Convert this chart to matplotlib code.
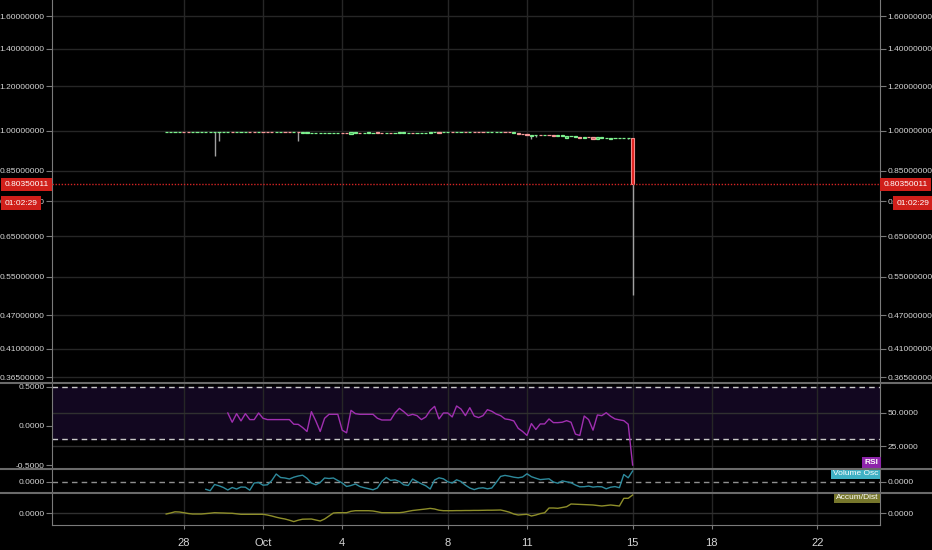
import matplotlib
matplotlib.use("Agg")
import matplotlib.pyplot as plt
import matplotlib.dates as mdates
import matplotlib.transforms as mtrans
from matplotlib import font_manager
from matplotlib.lines import Line2D
from matplotlib.ticker import FixedLocator, FixedFormatter, NullLocator
import numpy as np

# ---- datos (velas de 4h) ----
inicio = np.datetime64("2018-09-27T08:00")

aperturas = [
    .9955, .9955, .9968, .9960, .9968, .9966, .9960, .9955, .9962, .9956,
    .9962, .9958, .9956, .9950, .9948, .9960, .9946, .9952, .9944, .9956,
    .9960, .9950, .9958, .9960, .9960, .9948, .9946, .9954, .9952, .9940,
    .9948, .9932, .9925, .9922, .9928, .9926, .9926, .9925, .9924, .9926,
    .9926, .9924, .9880, .9930, .9936, .9928, .9932, .9928, .9938, .9932,
    .9926, .9934, .9928, .9930, .9930, .9926, .9936, .9924, .9924, .9926,
    .9930, .9940, .9958, .9938, .9940, .9948, .9945, .9955, .9962, .9952,
    .9960, .9962, .9960, .9944, .9950, .9950, .9946, .9950, .9946, .9930,
    .9900, .9880, .9862, .9815, .9820, .9828, .9818, .9828, .9826, .9812,
    .9814, .9700, .9780, .9770, .9765, .9700, .9760, .9750, .9690, .9700,
    .9728, .9680, .9722, .9716, .9712, .9706, .9715]

cierres = [
    .9962, .9970, .9970, .9972, .9965, .9960, .9966, .9968, .9966, .9970,
    .9965, .9965, .9963, .9964, .9962, .9954, .9960, .9958, .9958, .9950,
    .9945, .9953, .9950, .9946, .9946, .9954, .9952, .9946, .9944, .9948,
    .9940, .9938, .9938, .9935, .9932, .9932, .9932, .9932, .9931, .9932,
    .9898, .9898, .9946, .9936, .9928, .9936, .9934, .9936, .9922, .9924,
    .9934, .9926, .9934, .9934, .9932, .9934, .9920, .9930, .9930, .9932,
    .9955, .9962, .9928, .9945, .9946, .9942, .9965, .9962, .9955, .9960,
    .9952, .9945, .9944, .9960, .9956, .9955, .9952, .9942, .9938, .9936,
    .9870, .9860, .9820, .9825, .9826, .9820, .9826, .9818, .9816, .9820,
    .9820, .9790, .9786, .9778, .9720, .9745, .9740, .9695, .9740, .9745,
    .9735, .9735, .9728, .9722, .9714, .9714, .8035]

# mechas largas (el resto va de apertura a cierre)
mecha_idx = [11, 12, 30, 83, 84, 105, 106]
mecha_min = [0.902, 0.9596, 0.9596, 0.9660, 0.9740, 0.9690, 0.5106]
mecha_max = [0.9965, 0.9963, 0.9948, 0.9825, 0.9845, 0.9714, 0.9725]

rsi_desde = 14
rsi = [50, 43, 49.5, 44, 49.5, 45, 45, 50, 46, 45,
       45, 45, 45, 45, 45, 41.5, 41.4, 39, 36, 51,
       44, 36, 46, 49, 49, 49, 37, 35, 52, 49.5,
       49, 49, 49, 49, 46, 44.7, 44.7, 44.7, 50, 53.5,
       51, 48, 49, 48, 45, 47, 52, 55, 45.5, 50,
       50, 47, 55.3, 53, 48, 54, 47.7, 46.5, 48, 52.5,
       51.3, 49.2, 48, 45.5, 45, 44, 38.4, 36, 33, 42,
       37.5, 41.7, 41.7, 45.5, 42.7, 42.7, 43, 44.2, 43, 34,
       33, 47.7, 45, 37, 48.5, 48, 50.2, 47.5, 45.5, 44.8,
       44.2, 41.5, 10.6]

vol_desde = 9
vol_osc = [-7.3, -8.7, -2.5, -3.8, -5.5, -8, -5.5, -7, -5, -5.2,
           -8.2, -1, -0.5, -3.2, -2.8, 1.5, 8, 4.5, 4, 3,
           4.8, 6, 6.8, 3.7, -1, -2.8, -0.5, 4, 3.5, 4,
           1.5, -1, -4.5, -3.5, -2, -4.5, -5.7, -6.7, -7.8, -6,
           0.5, 4.5, 1.6, 2.2, 0.5, -2.8, -3.5, 3, 0.5, -1.8,
           -3.8, -7, 2, 4.2, 3.2, 0.2, -1, 2.2, 0.5, -3.2,
           -6, -7.6, -6.2, -5.8, -6.8, -6, -0.5, 5.6, 6.6, 5.8,
           4.8, 4.2, 5, 8.2, 5.3, 3.8, 2.4, 2.8, 3.2, 0,
           -1.2, 1.1, 0.2, -0.7, -3, -4.8, -4.7, -4.1, -5.1, -4.6,
           -4.8, -6.8, -5.2, -4.6, -5.7, 7.5, 4.2, 11]

acum_dist = [-1, 0, 1.2, 1, 0.3, -0.5, -1, -1, -1, -0.6,
             -0.2, 0.3, 0.1, 0, -0.2, -0.3, -0.8, -1.3, -1.3, -1.3,
             -1.3, -1.3, -1.3, -2, -3, -4.2, -5.2, -6, -7.2, -8.6,
             -7.2, -6.2, -6.1, -6, -7, -8, -6, -3, 0, 0.3,
             0.3, 0.3, 1.7, 2.3, 2.3, 2.3, 2.3, 2, 1.2, 0.3,
             0.3, 0.3, 0.3, 0.3, 0.8, 1.7, 2.5, 3, 3.5, 4,
             4.6, 4, 2.8, 2.3, 2.3, 2.3, 2.4, 2.4, 2.5, 2.5,
             2.6, 2.6, 2.7, 2.8, 2.8, 2.9, 3, 2, 0.8, -1,
             -2, -1.6, -1.3, -3, -2, -0.6, 0.2, 5, 5, 4.7,
             5.5, 6.3, 9, 8.8, 8.6, 8.4, 8.2, 8, 7.5, 7,
             7.5, 8, 7.5, 7, 14.7, 14.7, 18]

precio_ticks = [1.6, 1.4, 1.2, 1.0, 0.85, 0.75, 0.65, 0.55, 0.47, 0.41, 0.365]
fecha_ticks = ["2018-09-28", "2018-10-01", "2018-10-04", "2018-10-08",
               "2018-10-11", "2018-10-15", "2018-10-18", "2018-10-22"]
fecha_labels = ["28", "Oct", "4", "8", "11", "15", "18", "22"]
precio_actual = "0.80350011"
cuenta_atras = "01:02:29"

# ---- estilo ----
nombres = {f.name for f in font_manager.fontManager.ttflist}
if "Liberation Sans Narrow" in nombres:
    plt.rcParams["font.family"] = ["Liberation Sans Narrow", "DejaVu Sans"]
    fs = 7
else:
    plt.rcParams["font.family"] = ["Liberation Sans", "DejaVu Sans"]
    fs = 6
TXT = "#d6d6d6"
GRID = "#262626"
SPINE = "#7a7a7a"

fig = plt.figure(figsize=(9.32, 5.5), dpi=100, facecolor="black")
L, W = 52 / 932, 828 / 932
ax_p = fig.add_axes([L, 167 / 550, W, 383 / 550])
ax_r = fig.add_axes([L, 81 / 550, W, 86 / 550], sharex=ax_p)
ax_v = fig.add_axes([L, 57 / 550, W, 24 / 550], sharex=ax_p)
ax_a = fig.add_axes([L, 25 / 550, W, 32 / 550], sharex=ax_p)

n = len(cierres)
t = mdates.date2num(inicio + np.arange(n) * np.timedelta64(4, "h"))
xt = mdates.date2num(np.array(fecha_ticks, dtype="datetime64[h]"))

for ax in (ax_p, ax_r, ax_v, ax_a):
    ax.set_facecolor("black")
    for s in ("top", "bottom"):
        ax.spines[s].set_visible(False)
    for s in ("left", "right"):
        ax.spines[s].set_color(SPINE)
    ax.yaxis.set_ticks_position("both")
    ax.tick_params(axis="y", colors=SPINE, labelcolor=TXT, labelsize=fs,
                   length=4, pad=1.5, labelleft=True, labelright=True)
    ax.tick_params(axis="x", length=0, labelbottom=False)
    ax.xaxis.set_major_locator(FixedLocator(xt))
    ax.grid(True, axis="x", color=GRID, lw=1)

ax_p.set_xlim(mdates.date2num(np.datetime64("2018-09-23T00:12")),
              mdates.date2num(np.datetime64("2018-10-24T08:53")))

# ---- velas ----
o = np.array(aperturas)
c = np.array(cierres)
base = np.minimum(o, c)
lo = base.copy()
hi = np.maximum(o, c)
lo[mecha_idx] = mecha_min
hi[mecha_idx] = mecha_max
sube = c >= o
ax_p.vlines(t, lo, hi, color="#a0a0a0", lw=1, zorder=2)
ancho = 4 / 24 * 0.7
cuerpo = np.maximum(np.abs(c - o), 0.0008)
ax_p.bar(t[sube], cuerpo[sube], bottom=base[sube], width=ancho,
         color="#36a04e", edgecolor="#7df08e", lw=0.9, zorder=3)
rojo = ~sube
rojo[-1] = False
ax_p.bar(t[rojo], cuerpo[rojo], bottom=base[rojo], width=ancho,
         color="#c95d5d", edgecolor="#f59a9a", lw=0.9, zorder=3)
ax_p.bar(t[-1:], cuerpo[-1:], bottom=base[-1:], width=ancho,
         color="#e0201d", edgecolor="#f08a8a", lw=0.8, zorder=3)

ax_p.set_yscale("log")
ax_p.set_ylim(0.3562, 1.710)
ax_p.yaxis.set_major_locator(FixedLocator(precio_ticks))
ax_p.yaxis.set_major_formatter(FixedFormatter(["%.8f" % v for v in precio_ticks]))
ax_p.yaxis.set_minor_locator(NullLocator())
ax_p.grid(True, axis="y", color=GRID, lw=1)
ax_p.axhline(c[-1], color="#d42424", lw=1, ls=(0, (1, 1.2)), zorder=4)

tr = mtrans.blended_transform_factory(ax_p.transAxes, ax_p.transData)
caja = dict(boxstyle="square,pad=0.4", fc="#d01f1a", ec="none")
ax_p.text(-0.004, c[-1], precio_actual, transform=tr, ha="right", va="center",
          color="white", fontsize=fs, bbox=caja, zorder=10, clip_on=False)
ax_p.text(1.004, c[-1], precio_actual, transform=tr, ha="left", va="center",
          color="white", fontsize=fs, bbox=caja, zorder=10, clip_on=False)
ax_p.annotate(cuenta_atras, xy=(-0.057, c[-1]), xycoords=tr, xytext=(0, -13.5),
              textcoords="offset points", ha="left", va="center", color="white",
              fontsize=fs, bbox=caja, zorder=10, annotation_clip=False)
ax_p.annotate(cuenta_atras, xy=(1.020, c[-1]), xycoords=tr, xytext=(0, -13.5),
              textcoords="offset points", ha="left", va="center", color="white",
              fontsize=fs, bbox=caja, zorder=10, annotation_clip=False)

# ---- RSI ----
ax_r.set_ylim(7.6, 72.7)
ax_r.axhspan(30, 70, color="#120720", zorder=0)
ax_r.axhline(70, color="#c8c8c8", lw=1, ls=(0, (4, 3)))
ax_r.axhline(30, color="#c8c8c8", lw=1, ls=(0, (4, 3)))
ax_r.plot(t[rsi_desde:rsi_desde + len(rsi)], rsi, color="#a02fb0", lw=1)
ax_rl = ax_r.twinx()
ax_rl.set_ylim(-0.551, 0.551)
ax_rl.yaxis.set_ticks_position("left")
ax_rl.yaxis.set_major_locator(FixedLocator([0.5, 0.0, -0.5]))
ax_rl.yaxis.set_major_formatter(FixedFormatter(["0.5000", "0.0000", "-0.5000"]))
ax_rl.tick_params(axis="y", colors=SPINE, labelcolor=TXT, labelsize=fs, length=4,
                  pad=1.5, labelleft=True, labelright=False)
for s in ax_rl.spines.values():
    s.set_visible(False)
# twinx mueve los ticks del eje original a la izquierda: los devolvemos
ax_r.yaxis.set_ticks_position("right")
ax_r.yaxis.set_major_locator(FixedLocator([25, 50]))
ax_r.yaxis.set_major_formatter(FixedFormatter(["25.0000", "50.0000"]))
ax_r.tick_params(axis="y", colors=SPINE, labelcolor=TXT, labelsize=fs, length=4,
                 pad=1.5, labelleft=False, labelright=True, left=False, right=True)
ax_r.grid(True, axis="y", color="#303030", lw=1)
ax_r.text(0.998, 0.03, "RSI", transform=ax_r.transAxes, ha="right", va="bottom",
          color="white", fontsize=fs, fontweight="bold",
          bbox=dict(boxstyle="square,pad=0.3", fc="#8e24aa", ec="none"), zorder=10)

# ---- Volume Osc ----
ax_v.set_ylim(-11, 13)
ax_v.axhline(0, color="#909090", lw=1, ls=(0, (4, 3)))
ax_v.yaxis.set_major_locator(FixedLocator([0]))
ax_v.yaxis.set_major_formatter(FixedFormatter(["0.0000"]))
ax_v.plot(t[vol_desde:vol_desde + len(vol_osc)], vol_osc, color="#2e8a9c", lw=1)
ax_v.text(0.998, 0.96, "Volume Osc", transform=ax_v.transAxes, ha="right", va="top",
          color="white", fontsize=fs,
          bbox=dict(boxstyle="square,pad=0.25", fc="#3fb1c4", ec="none"), zorder=10)

# ---- Accum/Dist ----
ax_a.set_ylim(-12, 20)
ax_a.yaxis.set_major_locator(FixedLocator([0]))
ax_a.yaxis.set_major_formatter(FixedFormatter(["0.0000"]))
ax_a.grid(True, axis="y", color="#303030", lw=1)
ax_a.plot(t[:len(acum_dist)], acum_dist, color="#8e8e2a", lw=1)
ax_a.spines["bottom"].set_visible(True)
ax_a.spines["bottom"].set_color(SPINE)
ax_a.text(0.998, 0.97, "Accum/Dist", transform=ax_a.transAxes, ha="right", va="top",
          color="white", fontsize=fs,
          bbox=dict(boxstyle="square,pad=0.25", fc="#77772c", ec="none"), zorder=10)
ax_a.tick_params(axis="x", length=3, colors=SPINE, labelcolor=TXT, labelsize=fs + 2,
                 labelbottom=True, pad=6)
ax_a.xaxis.set_major_formatter(FixedFormatter(fecha_labels))

# separadores de paneles
for yp in (383, 469, 493):
    fig.add_artist(Line2D([0, 1], [1 - yp / 550] * 2, color="#6a6a6a", lw=1.5))

fig.savefig("out.png", dpi=100, facecolor="black")
